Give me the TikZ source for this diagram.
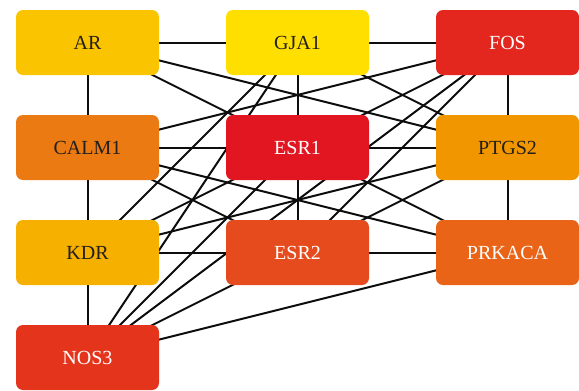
\documentclass[tikz,border=0pt]{standalone}
\usepackage{fontspec}
\setmainfont{Liberation Serif}
\usetikzlibrary{backgrounds}
\definecolor{arcol}{RGB}{250,197,0}
\definecolor{gjacol}{RGB}{255,223,0}
\definecolor{foscol}{RGB}{227,38,30}
\definecolor{calmcol}{RGB}{236,122,18}
\definecolor{esronecol}{RGB}{225,22,32}
\definecolor{ptgscol}{RGB}{242,150,0}
\definecolor{kdrcol}{RGB}{246,176,0}
\definecolor{esrtwocol}{RGB}{230,75,30}
\definecolor{prkcol}{RGB}{234,100,24}
\definecolor{noscol}{RGB}{228,52,28}
\definecolor{darktext}{RGB}{35,31,28}

\begin{document}
\begin{tikzpicture}[x=1pt,y=-1pt,
  gene/.style={rounded corners=7pt, minimum width=143pt, minimum height=65pt,
    inner sep=0pt, font=\fontsize{20}{24}\selectfont},
  link/.style={line width=2pt, black!95}]
\useasboundingbox (0,0) rectangle (579,391);
% Gene boxes
\node[gene, fill=arcol, text=darktext] (AR) at (87.5,42.5) {AR};
\node[gene, fill=gjacol, text=darktext] (GJA1) at (297.5,42.5) {GJA1};
\node[gene, fill=foscol, text=white] (FOS) at (507.5,42.5) {FOS};

\node[gene, fill=calmcol, text=darktext] (CALM1) at (87.5,147.5) {CALM1};
\node[gene, fill=esronecol, text=white] (ESR1) at (297.5,147.5) {ESR1};
\node[gene, fill=ptgscol, text=darktext] (PTGS2) at (507.5,147.5) {PTGS2};

\node[gene, fill=kdrcol, text=darktext] (KDR) at (87.5,252.5) {KDR};
\node[gene, fill=esrtwocol, text=white] (ESR2) at (297.5,252.5) {ESR2};
\node[gene, fill=prkcol, text=white] (PRKACA) at (507.5,252.5) {PRKACA};

\node[gene, fill=noscol, text=white] (NOS3) at (87.5,357.5) {NOS3};

% Interactions (behind the boxes)
\begin{pgfonlayer}{background}
\draw[link] (AR.center) -- (GJA1.center);
\draw[link] (GJA1.center) -- (FOS.center);
\draw[link] (CALM1.center) -- (ESR1.center);
\draw[link] (ESR1.center) -- (PTGS2.center);
\draw[link] (KDR.center) -- (ESR2.center);
\draw[link] (ESR2.center) -- (PRKACA.center);

\draw[link] (AR.center) -- (CALM1.center);
\draw[link] (CALM1.center) -- (KDR.center);
\draw[link] (KDR.center) -- (NOS3.center);
\draw[link] (GJA1.center) -- (ESR1.center);
\draw[link] (ESR1.center) -- (ESR2.center);
\draw[link] (FOS.center) -- (PTGS2.center);
\draw[link] (PTGS2.center) -- (PRKACA.center);

\draw[link] (AR.center) -- (PTGS2.center);
\draw[link] (AR.center) -- (PRKACA.center);
\draw[link] (GJA1.center) -- (KDR.center);
\draw[link] (GJA1.center) -- (NOS3.center);
\draw[link] (GJA1.center) -- (PTGS2.center);
\draw[link] (CALM1.center) -- (FOS.center);
\draw[link] (CALM1.center) -- (PRKACA.center);
\draw[link] (CALM1.center) -- (ESR2.center);
\draw[link] (FOS.center) -- (KDR.center);
\draw[link] (FOS.center) -- (NOS3.center);
\draw[link] (FOS.center) -- (ESR2.center);
\draw[link] (KDR.center) -- (PTGS2.center);
\draw[link] (NOS3.center) -- (PTGS2.center);
\draw[link] (NOS3.center) -- (ESR1.center);
\draw[link] (NOS3.center) -- (PRKACA.center);
\end{pgfonlayer}
\end{tikzpicture}
\end{document}
